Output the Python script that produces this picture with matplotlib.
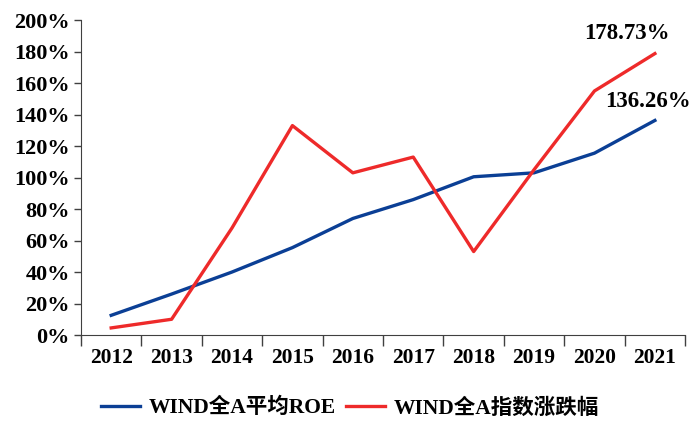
import matplotlib
matplotlib.use("Agg")
import matplotlib.pyplot as plt
import numpy as np

plt.rcParams['font.family'] = ['Liberation Serif', 'Noto Sans CJK SC']
plt.rcParams['font.weight'] = 'bold'

years = ['2012', '2013', '2014', '2015', '2016', '2017', '2018', '2019', '2020', '2021']
roe = [12.5, 26, 40, 55.5, 74, 86, 100.5, 103, 115.5, 136.26]
index_chg = [4.5, 10, 68, 133, 103, 113, 53, 105, 155, 178.73]

blue = '#0B3F95'
red = '#EE2A2A'

fig = plt.figure(figsize=(7, 4.37), dpi=100)
ax = fig.add_axes([0.1157, 0.2334, 0.863, 0.7206])

x = np.arange(len(years))
ax.plot(x, roe, color=blue, lw=2.4, label='WIND全A平均ROE')
ax.plot(x, index_chg, color=red, lw=2.4, label='WIND全A指数涨跌幅')

ax.set_xlim(-0.5, len(years) - 0.5)
ax.set_ylim(0, 200)
ax.set_yticks(np.arange(0, 201, 20))
ax.set_yticklabels([f'{v}%' for v in range(0, 201, 20)], fontsize=16)
ax.set_xticks(x)
ax.set_xticklabels(years, fontsize=15.5)
ax.set_xticks(np.arange(-0.5, len(years)), minor=True)
ax.tick_params(axis='x', which='major', length=0, pad=9)
ax.tick_params(axis='x', which='minor', length=8, width=1, color='#404040')
ax.tick_params(axis='y', length=5, width=1, color='#404040', pad=3)

for s in ['top', 'right']:
    ax.spines[s].set_visible(False)
ax.spines['left'].set_color('#404040')
ax.spines['bottom'].set_color('#404040')

ax.annotate(f'{index_chg[-1]:.2f}%', (x[-1], index_chg[-1]), xytext=(-20, 7),
            textcoords='offset points', ha='center', va='bottom', fontsize=16.5)
ax.annotate(f'{roe[-1]:.2f}%', (x[-1], roe[-1]), xytext=(-5, 6),
            textcoords='offset points', ha='center', va='bottom', fontsize=16.5)

fig.legend(loc='center', bbox_to_anchor=(0.5, 0.066), ncol=2, frameon=False,
           fontsize=15.5, handlelength=1.8, columnspacing=0.5, handletextpad=0.4)

fig.savefig('out.png', dpi=100)
